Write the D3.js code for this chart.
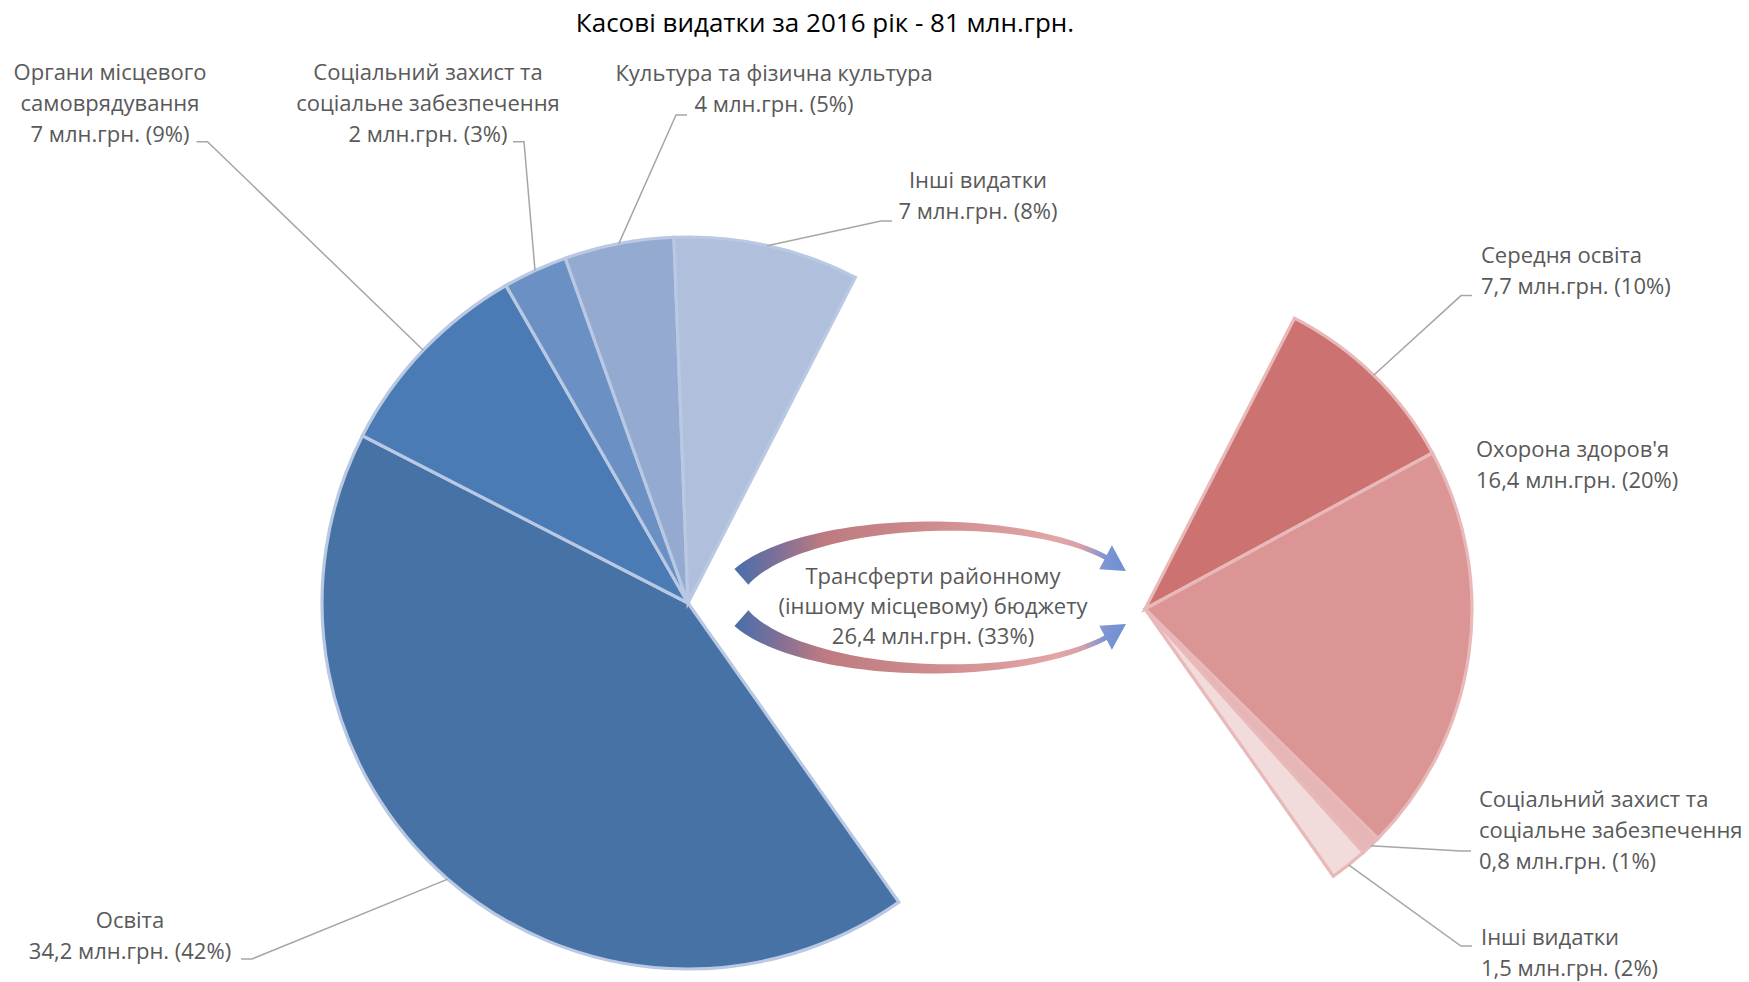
<!DOCTYPE html>
<html><head><meta charset="utf-8">
<script src="https://cdn.jsdelivr.net/npm/d3@7"></script>
<style>body{margin:0;background:#fff} svg{display:block} text{font-family:"Open Sans",sans-serif}</style>
</head><body><svg id="c" width="1749" height="982"></svg>
<script>
// ---------- data ----------
const title = "Касові видатки за 2016 рік - 81 млн.грн.";
const unit = "млн.грн.";
const leftCategories = ["Освіта", "Органи місцевого\nсамоврядування", "Соціальний захист та\nсоціальне забезпечення", "Культура та фізична культура", "Інші видатки"];
const leftValues = [34.2, 7.4, 2.3, 3.9, 6.6];
const leftValueText = ["34,2", "7", "2", "4", "7"];
const transferCategory = "Трансферти районному\n(іншому місцевому) бюджету";
const transferValue = 26.4;
const transferValueText = "26,4";
const rightCategories = ["Середня освіта", "Охорона здоров'я", "Соціальний захист та\nсоціальне забезпечення", "Інші видатки"];
const rightValues = [7.7, 16.4, 0.8, 1.5];
const rightValueText = ["7,7", "16,4", "0,8", "1,5"];

// ---------- styles / layout ----------
const leftColors = ["#4672a6", "#4a7bb5", "#6a90c4", "#95aad1", "#b0c0dc"];
const rightColors = ["#cc7270", "#da9594", "#e6b6b6", "#f1dbdb"];
const FS = 22, LH = 31, TXT = "#595959", LEADER = "#a6a6a6";
const leftLayout = [
  {anchor: "middle", x: 130, y: 920, leader: [[252, 959], [241, 959]]},
  {anchor: "middle", x: 110, y: 72.5, leader: [[207.5, 141.7], [196.5, 141.7]]},
  {anchor: "middle", x: 428, y: 72.5, leader: [[524, 141.7], [513, 141.7]]},
  {anchor: "middle", x: 774, y: 73.6, leader: [[676, 115], [687, 115]]},
  {anchor: "middle", x: 978, y: 180.7, leader: [[881, 221], [892, 221]]}
];
const rightLayout = [
  {anchor: "start", x: 1481, y: 255.4, leader: [[1461, 295.6], [1472, 295.6]]},
  {anchor: "start", x: 1476, y: 449.5, leader: null},
  {anchor: "start", x: 1479, y: 799.7, leader: [[1461, 851], [1471, 851]]},
  {anchor: "start", x: 1481, y: 937, leader: [[1461, 946], [1472, 946]]}
];

const svg = d3.select("#c");
const total = d3.sum(leftValues) + transferValue;
const pct = v => Math.round(v / total * 100) + "%";
const startA = 27.2 * Math.PI / 180;
const pie = d3.pie().value(d => d.value).sort(null).startAngle(startA).endAngle(startA + 2 * Math.PI);

// title
svg.append("text").attr("x", 825).attr("y", 23).attr("dy", "0.35em").attr("text-anchor", "middle")
  .attr("fill", "#000").attr("font-size", 26).text(title);

function drawPie(cx, cy, R, data, colors, stroke, layout) {
  const g = svg.append("g").attr("transform", `translate(${cx},${cy})`);
  const arcs = pie(data);
  const arc = d3.arc().innerRadius(0).outerRadius(R);
  const edge = d3.arc().innerRadius(R).outerRadius(R);
  const shown = arcs.filter(d => !d.data.hidden);
  g.selectAll("path.slice").data(shown).join("path").attr("class", "slice")
    .attr("d", arc).attr("fill", d => colors[d.data.i]).attr("stroke", stroke)
    .attr("stroke-width", 3.2).attr("stroke-linejoin", "miter");
  shown.forEach(d => {
    const L = layout[d.data.i];
    if (L.leader) {
      const p = edge.centroid(d);
      const pts = [[p[0] + cx, p[1] + cy], ...L.leader];
      svg.append("path").attr("d", d3.line()(pts)).attr("fill", "none")
        .attr("stroke", LEADER).attr("stroke-width", 1.5);
    }
    const lines = d.data.name.split("\n").concat([`${d.data.vt} ${unit} (${pct(d.data.value)})`]);
    const t = svg.append("text").attr("text-anchor", L.anchor).attr("fill", TXT).attr("font-size", FS);
    lines.forEach((s, k) => t.append("tspan").attr("x", L.x).attr("y", L.y + k * LH).attr("dy", "0.35em").text(s));
  });
}

const leftData = [{name: transferCategory, value: transferValue, hidden: true}]
  .concat(leftCategories.map((n, i) => ({name: n, value: leftValues[i], vt: leftValueText[i], i})));
const rightData = rightCategories.map((n, i) => ({name: n, value: rightValues[i], vt: rightValueText[i], i}))
  .concat([{name: "", value: total - d3.sum(rightValues), hidden: true}]);

drawPie(688, 603, 366, leftData, leftColors, "#b9c8e3", leftLayout);
drawPie(1145, 609, 327, rightData, rightColors, "#e9b9b9", rightLayout);

// ---------- curved arrows ----------
const defs = svg.append("defs");
const grad = defs.append("linearGradient").attr("id", "ag").attr("gradientUnits", "userSpaceOnUse")
  .attr("x1", 737).attr("x2", 1128).attr("y1", 0).attr("y2", 0);
[[0, "#4a6fab"], [0.1, "#7c6f98"], [0.22, "#bd7a80"], [0.5, "#cf8c8e"], [0.82, "#e2a6a6"], [0.88, "#d7a0a8"], [0.94, "#7f95d2"], [1, "#6a8fd4"]]
  .forEach(([o, c]) => grad.append("stop").attr("offset", o).attr("stop-color", c));

function arrowPoints(mirror) {
  const cx = 931, cy = 597.5, rx = 212, ry = 76;
  const rad = a => a * Math.PI / 180;
  const P = t => [cx + rx * Math.cos(t), cy - ry * Math.sin(t)];
  const Nn = t => { const a = Math.cos(t) / rx, b = -Math.sin(t) / ry, l = Math.hypot(a, b); return [a / l, b / l]; };
  const t0 = rad(158), t1 = rad(34), tt = rad(22), w0 = 21, w1 = 5, h = 13.5;
  const outer = [], inner = [];
  const N = 60;
  for (let k = 0; k <= N; k++) {
    const f = k / N;
    const t = t0 + (t1 - t0) * f, w = w1 + (w0 - w1) * Math.pow(1 - f, 1.6);
    const p = P(t), n = Nn(t);
    outer.push(p);
    inner.push([p[0] - n[0] * w, p[1] - n[1] * w]);
  }
  const p1 = P(t1), n1 = Nn(t1);
  const c = [p1[0] - n1[0] * w1 / 2, p1[1] - n1[1] * w1 / 2];
  const pt = P(tt), nt = Nn(tt);
  const tip = [pt[0] - nt[0] * w1 / 2, pt[1] - nt[1] * w1 / 2];
  const head = [[c[0] + n1[0] * h, c[1] + n1[1] * h], tip, [c[0] - n1[0] * h, c[1] - n1[1] * h]];
  let pts = outer.concat(head, inner.reverse());
  if (mirror) pts = pts.map(([x, y]) => [x, 2 * cy - y]);
  return pts;
}
[false, true].forEach(m => {
  svg.append("path").attr("d", d3.line()(arrowPoints(m)) + "Z").attr("fill", "url(#ag)");
});

// transfer label
const tl = transferCategory.split("\n").concat([`${transferValueText} ${unit} (${pct(transferValue)})`]);
const tt = svg.append("text").attr("text-anchor", "middle").attr("fill", TXT).attr("font-size", FS);
tl.forEach((s, k) => tt.append("tspan").attr("x", 933).attr("y", 576.5 + k * 30).attr("dy", "0.35em").text(s));
</script></body></html>
